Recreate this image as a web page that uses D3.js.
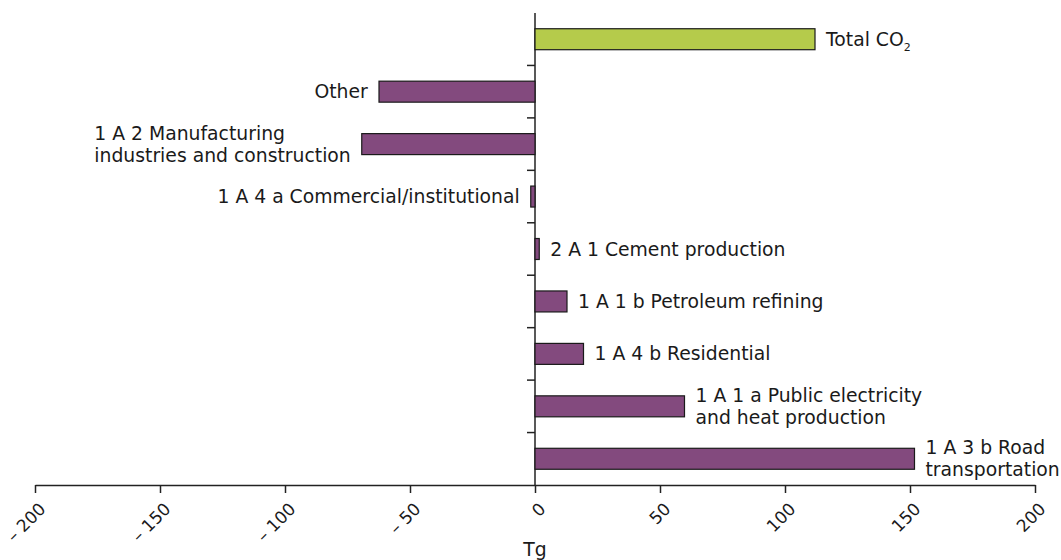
<!DOCTYPE html>
<html>
<head>
<meta charset="utf-8">
<script src="https://cdn.jsdelivr.net/npm/d3@7"></script>
<style>
  body { margin: 0; background: #fff; }
  svg text { font-family: "DejaVu Sans", Verdana, sans-serif; font-size: 18.8px; fill: #1a1a1a; }
  svg .tick text { font-size: 17px; }
</style>
</head>
<body>
<svg width="1061" height="560"></svg>
<script>
// categories top to bottom, label lines, values in Tg
const categories = ["total", "other", "manuf", "commercial", "cement", "petroleum", "residential", "public", "road"];
const labels = [
    ["Total CO2"],
    ["Other"],
    ["1 A 2 Manufacturing", "industries and construction"],
    ["1 A 4 a Commercial/institutional"],
    ["2 A 1 Cement production"],
    ["1 A 1 b Petroleum refining"],
    ["1 A 4 b Residential"],
    ["1 A 1 a Public electricity", "and heat production"],
    ["1 A 3 b Road", "transportation"]
];
const values = [112, -62.4, -69.3, -1.7, 1.7, 12.8, 19.4, 59.8, 151.8];
const xTicks = [-200, -150, -100, -50, 0, 50, 100, 150, 200];

const svg = d3.select('svg');

const x = d3.scaleLinear().domain([-200, 200]).range([35, 1035]);
const y = d3.scaleBand().domain(categories).range([13, 485]).paddingInner(0.6).paddingOuter(0.3);

const fmt = d => d < 0 ? '\u2013 ' + Math.abs(d) : '' + d;

// x axis
const xAxisG = svg.append('g')
    .attr('transform', 'translate(0,485)')
    .call(d3.axisBottom(x).tickValues(xTicks).tickSize(8).tickSizeOuter(0).tickFormat(fmt));
xAxisG.selectAll('path, line').attr('stroke', '#222').attr('stroke-width', 1.5);
xAxisG.selectAll('text')
    .attr('text-anchor', 'end')
    .attr('x', 0).attr('y', 0).attr('dy', '0.35em')
    .attr('transform', 'translate(7,21) rotate(-45)');

svg.append('text')
    .attr('x', x(0)).attr('y', 556)
    .attr('text-anchor', 'middle')
    .text('Tg');

// y axis line with ticks between bands
const step = y.step();
svg.append('line')
    .attr('x1', x(0)).attr('x2', x(0))
    .attr('y1', 13).attr('y2', 485)
    .attr('stroke', '#222').attr('stroke-width', 1.5);
svg.selectAll('.ytick').data(categories.slice(1))
    .enter().append('line')
    .attr('class', 'ytick')
    .attr('x1', x(0) - 8).attr('x2', x(0))
    .attr('y1', d => y(d) - step * 0.3)
    .attr('y2', d => y(d) - step * 0.3)
    .attr('stroke', '#222').attr('stroke-width', 1.5);

// bars
svg.selectAll('.bar').data(categories)
    .enter().append('rect')
    .attr('class', 'bar')
    .attr('x', (d, i) => x(Math.min(0, values[i])))
    .attr('y', d => y(d))
    .attr('width', (d, i) => Math.abs(x(values[i]) - x(0)))
    .attr('height', y.bandwidth())
    .attr('fill', (d, i) => i === 0 ? '#b5cb4b' : '#834a7e')
    .attr('stroke', '#1a1a1a')
    .attr('stroke-width', 1.2);

// labels
const lineH = 22;
categories.forEach((c, i) => {
    const v = values[i];
    const lines = labels[i];
    const cy = y(c) + y.bandwidth() / 2;
    const t = svg.append('text')
        .attr('y', cy - (lines.length - 1) * lineH / 2);
    lines.forEach((l, j) => {
        const ts = t.append('tspan')
            .attr('x', 0)
            .attr('dy', j === 0 ? '0.35em' : lineH);
        if (i === 0) {
            ts.text('Total CO');
            ts.append('tspan').attr('font-size', '11px').attr('dy', 5).text('2');
        } else {
            ts.text(l);
        }
    });
    const w = t.node().getBBox().width;
    const gap = 11;
    const tx = v >= 0 ? x(v) + gap : x(v) - gap - w;
    t.selectAll(':scope > tspan').attr('x', tx);
});
</script>
</body>
</html>
